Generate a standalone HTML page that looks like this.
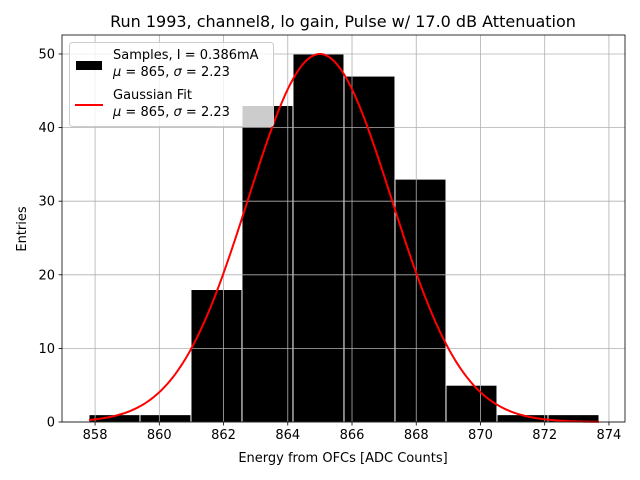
<!DOCTYPE html>
<html><head><meta charset="utf-8"><style>body{margin:0;background:#fff}svg{display:block;font-family:"DejaVu Sans","Liberation Sans",sans-serif}</style></head>
<body>
<svg id="c" width="640" height="480"></svg>
<script>
const binEdgeStart = 857.81;
const binWidth = 1.588;
const counts = [1,1,18,43,50,47,33,5,1,1];
const mu = 865, sigma = 2.23, amp = 50;
const xTicks = [858,860,862,864,866,868,870,872,874];
const yTicks = [0,10,20,30,40,50];
const X0=62,X1=625,Y0=35,Y1=422;
const xmin=856.97,xmax=874.5,ymin=0,ymax=52.58;
const sx=v=>X0+(v-xmin)/(xmax-xmin)*(X1-X0);
const sy=v=>Y1-(v-ymin)/(ymax-ymin)*(Y1-Y0);
const svg=document.getElementById('c');
const NS='http://www.w3.org/2000/svg';
function mk(t,a,p){const e=document.createElementNS(NS,t);for(const k in a)e.setAttribute(k,a[k]);(p||svg).appendChild(e);return e;}
mk('rect',{x:0,y:0,width:640,height:480,fill:'#fff'});
counts.forEach((c,i)=>{const a=binEdgeStart+i*binWidth,b=a+binWidth;
const r=mk('rect',{x:sx(a),y:sy(c),width:sx(b)-sx(a),height:sy(0)-sy(c),fill:'#000',stroke:'#fff','stroke-width':1});

});
const grid=mk('g',{});


xTicks.forEach(t=>{const x=sx(t);mk('line',{x1:x,x2:x,y1:Y0,y2:Y1,stroke:'#b0b0b0','stroke-width':0.8},grid);
mk('line',{x1:x,x2:x,y1:Y1,y2:Y1+3.5,stroke:'#000','stroke-width':0.8});
const l=mk('text',{x:x,y:Y1+17,'font-size':13,'text-anchor':'middle'});l.textContent=t;

});
yTicks.forEach(t=>{const y=sy(t);mk('line',{x1:X0,x2:X1,y1:y,y2:y,stroke:'#b0b0b0','stroke-width':0.8},grid);
mk('line',{x1:X0-3.5,x2:X0,y1:y,y2:y,stroke:'#000','stroke-width':0.8});
const l=mk('text',{x:X0-7,y:y+4.5,'font-size':13,'text-anchor':'end'});l.textContent=t;

});
let d='';const lo=binEdgeStart,hi=binEdgeStart+counts.length*binWidth;
for(let i=0;i<=200;i++){const v=lo+(hi-lo)*i/200;const f=amp*Math.exp(-((v-mu)**2)/(2*sigma*sigma));d+=(i?'L':'M')+sx(v).toFixed(2)+','+sy(f).toFixed(2);}
const p=mk('path',{d:d,fill:'none',stroke:'red','stroke-width':2});


mk('rect',{x:X0,y:Y0,width:X1-X0,height:Y1-Y0,fill:'none',stroke:'#000','stroke-width':0.8});
const lg=mk('g',{});


mk('rect',{x:69.5,y:42.5,width:204,height:84,rx:3,fill:'rgba(255,255,255,0.8)',stroke:'#ccc','stroke-width':1},lg);
mk('rect',{x:76,y:61,width:26,height:9,fill:'#000'},lg);
mk('line',{x1:75,x2:103,y1:105,y2:105,stroke:'red','stroke-width':2},lg);
function stat(y){const t=mk('text',{x:113,y:y,'font-size':13},lg);
const a=mk('tspan',{'font-style':'italic'},t);a.textContent='μ';
const b=mk('tspan',{},t);b.textContent=' = 865, ';
const c=mk('tspan',{'font-style':'italic'},t);c.textContent='σ';
const e=mk('tspan',{},t);e.textContent=' = 2.23';}
let t1=mk('text',{x:113,y:59,'font-size':13},lg);t1.textContent='Samples, I = 0.386mA';
stat(76);
let t2=mk('text',{x:113,y:99,'font-size':13},lg);t2.textContent='Gaussian Fit';
stat(116);
const ti=mk('text',{x:343,y:27,'font-size':16,'text-anchor':'middle'});ti.textContent='Run 1993, channel8, lo gain, Pulse w/ 17.0 dB Attenuation';


const xl=mk('text',{x:343,y:462,'font-size':13,'text-anchor':'middle'});xl.textContent='Energy from OFCs [ADC Counts]';


const yl=mk('text',{x:0,y:0,'font-size':13,'text-anchor':'middle',transform:'translate(26,229) rotate(-90)'});yl.textContent='Entries';


</script>
</body></html>
